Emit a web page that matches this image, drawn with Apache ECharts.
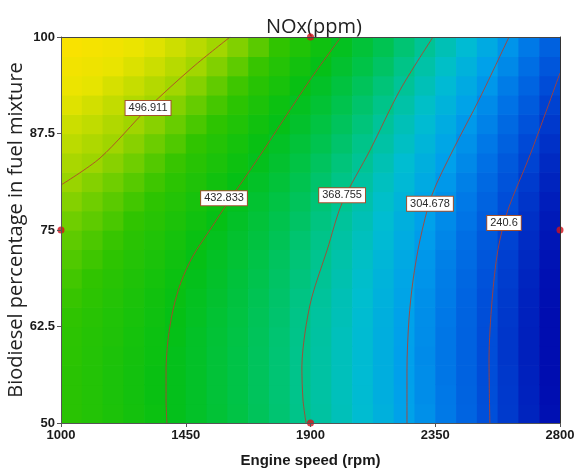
<!DOCTYPE html>
<html>
<head>
<meta charset="utf-8">
<script src="https://cdn.jsdelivr.net/npm/echarts@6/dist/echarts.min.js"></script>
<style>
  html, body { margin: 0; padding: 0; background: #fff; }
  #chart { width: 580px; height: 476px; }
</style>
</head>
<body>
<div id="chart"></div>
<script>
// Axis ticks
const speedTicks = [1000, 1450, 1900, 2350, 2800];
const biodieselTicks = [50, 62.5, 75, 87.5, 100];

// Response surface cell centres
const speedCenters = [1037.5, 1112.5, 1187.5, 1262.5, 1337.5, 1412.5, 1487.5, 1562.5, 1637.5, 1712.5, 1787.5, 1862.5,
  1937.5, 2012.5, 2087.5, 2162.5, 2237.5, 2312.5, 2387.5, 2462.5, 2537.5, 2612.5, 2687.5, 2762.5];
const biodieselCenters = [51.25, 53.75, 56.25, 58.75, 61.25, 63.75, 66.25, 68.75, 71.25, 73.75,
  76.25, 78.75, 81.25, 83.75, 86.25, 88.75, 91.25, 93.75, 96.25, 98.75];

// NOx (ppm), one row per biodiesel level (bottom to top), one column per speed
const noxGrid = [
  [460,455,450,444,437,429,421,413,404,394,383,372,360,348,335,322,307,293,277,261,244,227,209,191],
  [460,455,449,443,436,429,421,412,403,393,382,371,359,347,334,320,306,291,276,260,243,226,208,189],
  [460,455,449,443,436,429,421,412,403,393,382,371,359,347,333,320,305,291,275,259,242,225,207,188],
  [461,456,450,444,437,429,421,412,403,393,382,371,359,347,334,320,305,290,275,259,242,224,206,188],
  [462,457,452,445,438,431,422,413,404,394,383,372,360,347,334,320,306,291,275,259,242,224,206,188],
  [464,459,453,447,440,432,424,415,406,395,385,373,361,349,335,321,307,292,276,260,243,225,207,188],
  [467,462,456,449,442,435,426,417,408,397,387,375,363,350,337,323,309,293,278,261,244,227,208,190],
  [470,465,459,452,445,437,429,420,410,400,389,378,366,353,339,325,311,296,280,263,246,229,210,191],
  [474,469,463,456,449,441,432,423,414,403,392,381,369,356,342,328,314,298,282,266,249,231,213,194],
  [478,473,467,460,453,445,436,427,417,407,396,384,372,359,346,332,317,302,286,269,252,234,216,197],
  [483,478,472,465,458,450,441,432,422,411,400,389,376,363,350,336,321,306,290,273,256,238,219,200],
  [489,483,477,470,463,455,446,437,427,416,405,394,381,368,355,340,326,310,294,277,260,242,223,204],
  [495,489,483,476,469,461,452,442,432,422,411,399,386,373,360,345,331,315,299,282,265,247,228,209],
  [501,496,490,483,475,467,458,449,439,428,417,405,392,379,366,351,336,321,305,288,270,252,234,214],
  [509,503,497,490,482,474,465,455,445,435,423,411,399,386,372,358,343,327,311,294,276,258,239,220],
  [516,511,504,497,490,481,472,463,453,442,431,419,406,393,379,364,349,334,317,300,283,265,246,226],
  [525,519,512,505,498,489,480,471,461,450,438,426,414,400,386,372,357,341,325,308,290,272,253,233],
  [534,528,521,514,506,498,489,479,469,458,447,435,422,408,394,380,365,349,332,315,298,279,261,241],
  [543,537,531,523,516,507,498,488,478,467,456,443,431,417,403,389,373,357,341,324,306,288,269,249],
  [553,547,541,533,525,517,508,498,488,477,465,453,440,426,412,398,382,366,350,333,315,296,277,258]
];

// Colour scale range of the surface
const surfaceMin = 176.5;
const surfaceMax = 561.0;

// Contour levels and their traced paths [speed, biodiesel]
const contourLevels = [496.911, 432.833, 368.755, 304.678, 240.6];
const contour497 = [[1000, 80.83], [1141, 84.33], [1314, 90.80], [1476, 96.11], [1610, 100]];
const contour433 = [[2010, 100], [1898, 94.43], [1707, 84.07], [1613, 79.15], [1537, 75.0], [1476, 71.63],
  [1433, 68.27], [1404, 64.64], [1386, 60.75], [1379, 56.87], [1379, 52.98], [1382, 50]];
const contour369 = [[2342, 100], [2223, 93.13], [2115, 85.36], [2014, 78.50], [1960, 72.41], [1905, 66.32],
  [1880, 61.66], [1869, 57.26], [1873, 52.98], [1884, 50]];
const contour305 = [[2616, 100], [2511, 92.10], [2414, 85.36], [2338, 79.53], [2295, 73.71], [2270, 68.52],
  [2255, 63.34], [2248, 56.87], [2248, 50]];
const contour241 = [[2800, 95.34], [2692, 84.72], [2612, 77.59], [2576, 72.41], [2555, 65.93], [2544, 58.16], [2547, 50]];
const contourPaths = [contour497, contour433, contour369, contour305, contour241];

// Where each contour value is printed
const labelSpeed = [1314, 1588, 2014, 2331, 2598];
const labelBiodiesel = [90.8, 79.1, 79.5, 78.4, 75.9];

// Design points on the edges of the region
const designSpeed = [1900, 1900, 1000, 2800];
const designBiodiesel = [100, 50, 75, 75];

const cellData = [];
biodieselCenters.forEach((b, j) => {
  speedCenters.forEach((s, i) => { cellData.push([s, b, noxGrid[j][i]]); });
});
const halfW = (speedCenters[1] - speedCenters[0]) / 2;
const halfH = (biodieselCenters[1] - biodieselCenters[0]) / 2;

const tickFont = 'Liberation Sans, Arial, sans-serif';
const lineColor = '#b3402c';

const series = [{
  type: 'custom',
  data: cellData,
  encode: { x: 0, y: 1 },
  clip: true,
  z: 1,
  renderItem: function (params, api) {
    const s = api.value(0), b = api.value(1);
    const p0 = api.coord([s - halfW, b + halfH]);
    const p1 = api.coord([s + halfW, b - halfH]);
    return {
      type: 'rect',
      shape: { x: p0[0], y: p0[1], width: p1[0] - p0[0] + 0.7, height: p1[1] - p0[1] + 0.7 },
      style: { fill: api.visual('color') }
    };
  }
}];

contourPaths.forEach(path => {
  series.push({
    type: 'line',
    data: path,
    smooth: 0.3,
    showSymbol: false,
    symbol: 'none',
    clip: true,
    z: 3,
    silent: true,
    lineStyle: { color: lineColor, width: 1, opacity: 0.85 }
  });
});

// Contour value tags, one per level
series.push({
  type: 'scatter',
  data: contourLevels.map((lv, k) => [labelSpeed[k], labelBiodiesel[k], String(lv)]),
  symbol: 'rect',
  symbolSize: 1,
  itemStyle: { color: '#ffffff', opacity: 1 },
  z: 5,
  silent: true,
  label: {
    show: true,
    position: 'inside',
    formatter: p => p.value[2],
    backgroundColor: '#ffffff',
    borderColor: '#a3512f',
    borderWidth: 1,
    padding: [2, 3, 1, 3],
    fontSize: 11,
    fontFamily: 'Liberation Sans, Arial, sans-serif',
    color: '#2a2a2a'
  }
});

series.push({
  type: 'scatter',
  data: designSpeed.map((s, k) => [s, designBiodiesel[k]]),
  symbolSize: 7,
  clip: true,
  z: 6,
  silent: true,
  itemStyle: { color: '#d3121a' }
});

const chart = echarts.init(document.getElementById('chart'), null, { renderer: 'canvas' });
chart.setOption({
  animation: false,
  backgroundColor: '#ffffff',
  title: {
    text: 'NOx(ppm)',
    left: 261,
    top: 12,
    textStyle: { fontSize: 20, fontWeight: 'normal', color: '#222', fontFamily: 'Open Sans, Liberation Sans, sans-serif' }
  },
  grid: { left: 61, right: 20, top: 37, bottom: 53, show: false, containLabel: false, outerBoundsMode: 'none' },
  visualMap: {
    type: 'continuous',
    show: false,
    seriesIndex: 0,
    dimension: 2,
    min: surfaceMin,
    max: surfaceMax,
    inRange: {
      color: ['#0000a8', '#0023be', '#004bd7', '#0073e6', '#00a0eb', '#00bed0', '#00c490',
        '#00c34b', '#05c014', '#30c400', '#a0d500', '#e8e400', '#ffe200']
    }
  },
  xAxis: [{
    type: 'value',
    min: speedTicks[0],
    max: speedTicks[speedTicks.length - 1],
    z: 10,
    name: 'Engine speed (rpm)',
    nameLocation: 'middle',
    nameGap: 30,
    nameTextStyle: { fontSize: 15, fontWeight: 'bold', color: '#1a1a1a', fontFamily: tickFont },
    axisLine: { show: true, lineStyle: { color: '#555', width: 1 } },
    axisTick: { show: true, length: 4, customValues: speedTicks, lineStyle: { color: '#555' } },
    axisLabel: { customValues: speedTicks, formatter: v => String(v), fontSize: 13, fontWeight: 'bold', color: '#1a1a1a', margin: 6, fontFamily: tickFont },
    splitLine: { show: false }
  }, {
    type: 'value',
    position: 'top',
    min: speedTicks[0],
    max: speedTicks[speedTicks.length - 1],
    z: 10,
    axisLine: { show: true, onZero: false, lineStyle: { color: '#444', width: 1 } },
    axisTick: { show: false },
    axisLabel: { show: false },
    splitLine: { show: false }
  }],
  yAxis: [{
    type: 'value',
    min: biodieselTicks[0],
    max: biodieselTicks[biodieselTicks.length - 1],
    interval: biodieselTicks[1] - biodieselTicks[0],
    z: 10,
    name: 'Biodiesel percentage in fuel mixture',
    nameLocation: 'middle',
    nameGap: 35,
    nameMoveOverlap: false,
    nameTextStyle: { fontSize: 20, color: '#222', fontFamily: 'Open Sans, Liberation Sans, sans-serif' },
    axisLine: { show: true, lineStyle: { color: '#555', width: 1 } },
    axisTick: { show: true, length: 4, lineStyle: { color: '#555' } },
    axisLabel: { formatter: v => String(v), fontSize: 13, fontWeight: 'bold', color: '#1a1a1a', margin: 6, fontFamily: tickFont },
    splitLine: { show: false }
  }, {
    type: 'value',
    position: 'right',
    min: biodieselTicks[0],
    max: biodieselTicks[biodieselTicks.length - 1],
    z: 10,
    axisLine: { show: true, onZero: false, lineStyle: { color: '#333', width: 1 } },
    axisTick: { show: false },
    axisLabel: { show: false },
    splitLine: { show: false }
  }],
  series: series
});
</script>
</body>
</html>
